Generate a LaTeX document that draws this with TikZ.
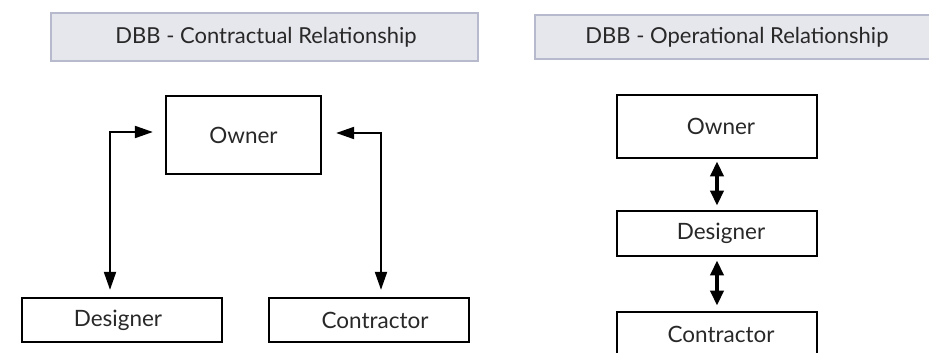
\documentclass[tikz,border=0pt]{standalone}
\usepackage{fontspec}
\setmainfont{Lato}
\usetikzlibrary{arrows.meta,calc}
\definecolor{titlefill}{RGB}{230,230,237}
\definecolor{titledraw}{RGB}{182,186,204}
\definecolor{txt}{RGB}{40,40,40}
\tikzset{
  titlebox/.style={draw=titledraw, fill=titlefill, line width=2pt},
  titletext/.style={text=txt, font=\fontsize{22}{26}\selectfont},
  entbox/.style={draw=black, line width=2.3pt, text=txt, font=\fontsize{22.5}{26}\selectfont},
  entthick/.style={draw=black, line width=2.8pt, text=txt, font=\fontsize{22.5}{26}\selectfont},
  lnarrow/.style={line width=2pt, {Triangle[length=18pt,width=12pt]}-{Triangle[length=18pt,width=12pt]}},
  bigarrow/.style={line width=4pt, {Triangle[length=15pt,width=13pt]}-{Triangle[length=15pt,width=13pt]}},
}
\begin{document}
\begin{tikzpicture}[x=1pt,y=-1pt]
\useasboundingbox (0,0) rectangle (929,353);
\clip (0,0) rectangle (929,353);
% titles
\draw[titlebox] (51,13) rectangle (478,61);
\node[titletext] (t1) at (266,37) {DBB - Contractual Relationship};
\draw[titlebox] (535,15) rectangle (945,59);
\node[titletext] (t2) at (737,37) {DBB - Operational Relationship};
% left diagram
\node[entbox, minimum width=155pt, minimum height=78pt, inner sep=0pt] (own) at (243.5,135) {Owner};
\node[entbox, minimum width=200pt, minimum height=44pt, inner sep=0pt] (dsg) at (122,320) {\hspace*{-8pt}Designer};
\node[entbox, minimum width=200pt, minimum height=44pt, inner sep=0pt] (con) at (369,320) {\hspace*{12pt}Contractor};
\coordinate (lx) at (110,138);
\coordinate (rx) at (381,137);
\draw[lnarrow, shorten <=7pt, shorten >=12pt] (dsg.north -| lx) |- ([yshift=3pt]own.west);
\draw[lnarrow, shorten <=7pt, shorten >=14pt] (con.north -| rx) |- ([yshift=2pt]own.east);
% right diagram
\node[entthick, minimum width=200pt, minimum height=63pt, inner sep=0pt] (own2) at (717,126.5) {\hspace*{8pt}Owner};
\node[entthick, minimum width=200pt, minimum height=45pt, inner sep=0pt] (dsg2) at (717,233.5) {\hspace*{8pt}Designer};
\node[entthick, minimum width=200pt, minimum height=45pt, inner sep=0pt] (con2) at (717,334.5) {\hspace*{8pt}Contractor};
\draw[bigarrow, shorten <=2pt, shorten >=4pt] (own2.south) -- (dsg2.north);
\draw[bigarrow, shorten <=3pt, shorten >=5pt] (dsg2.south) -- (con2.north);
\end{tikzpicture}
\end{document}
